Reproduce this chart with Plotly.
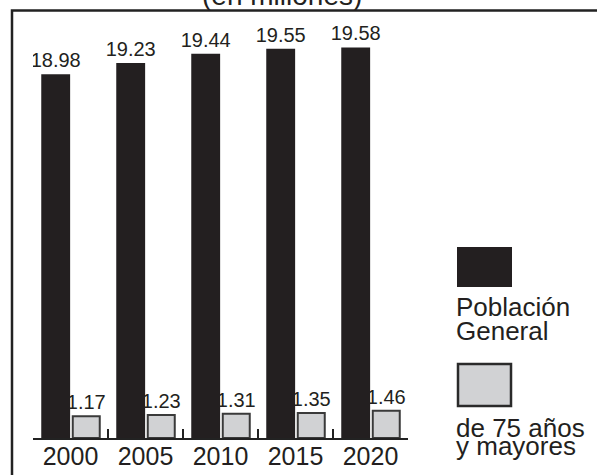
import plotly.graph_objects as go

years = ["2000", "2005", "2010", "2015", "2020"]
poblacion_general = [18.98, 19.23, 19.44, 19.55, 19.58]
mayores_75 = [1.17, 1.23, 1.31, 1.35, 1.46]
title_text = "(en millones)"
legend_general = ["Población", "General"]
legend_mayores = ["de 75 años", "y mayores"]

W, H = 597, 475
L, R, T, B = 33, 408, 12, 438
FONT = "Liberation Sans, Arial, Helvetica, sans-serif"
INK = "#231f20"
GRAY = "#d1d2d4"


def px(x):
    return (x - L) / (R - L)


def py(y):
    return (B - y) / (B - T)


def base_y(baseline, size):
    # bottom of annotation box for a wanted text baseline (pixels)
    return py(baseline + 0.21 * size + 1)


fig = go.Figure()
fig.add_trace(go.Bar(
    x=years, y=poblacion_general, yaxis="y",
    marker=dict(color=INK, line=dict(width=0)),
    width=0.385, offset=-0.39,
    text=[f"{v:.2f}" for v in poblacion_general],
    textposition="outside", constraintext="none",
    textfont=dict(family=FONT, size=20, color=INK),
    name="Población General", showlegend=False,
))
fig.add_trace(go.Bar(
    x=years, y=mayores_75, yaxis="y2",
    marker=dict(color=GRAY, line=dict(width=2, color="#3a3a3a")),
    width=0.36, offset=0.03,
    text=[f"{v:.2f}" for v in mayores_75],
    textposition="outside", constraintext="none",
    textfont=dict(family=FONT, size=20, color=INK),
    name="de 75 años y mayores", showlegend=False,
))

frame_path = "M {:.4f} {:.4f} L {:.4f} {:.4f} L {:.4f} {:.4f}".format(
    px(12), py(500), px(12), py(10.5), px(620), py(10.5))

shapes = [
    # frame (left and top)
    dict(type="path", xref="paper", yref="paper", path=frame_path,
         line=dict(color="#222", width=2.5)),
    # legend swatches
    dict(type="rect", xref="paper", yref="paper", x0=px(457), x1=px(512),
         y0=py(287), y1=py(247), fillcolor=INK, line=dict(width=0)),
    dict(type="rect", xref="paper", yref="paper", x0=px(458), x1=px(511),
         y0=py(406), y1=py(364), fillcolor=GRAY, line=dict(width=2.5, color="#2a2a2a")),
]

annotations = [
    dict(text=title_text, xref="paper", yref="paper", x=px(282), y=base_y(6, 28),
         xanchor="center", yanchor="bottom", showarrow=False,
         font=dict(family=FONT, size=28, color=INK)),
]
for txt, bl in zip(legend_general + legend_mayores, [318, 342, 439, 457]):
    annotations.append(dict(text=txt, xref="paper", yref="paper", x=px(454), y=base_y(bl, 26),
                            xanchor="left", yanchor="bottom", showarrow=False,
                            font=dict(family=FONT, size=26, color=INK)))

fig.update_layout(
    width=W, height=H,
    margin=dict(l=L, r=W - R, t=T, b=H - B, pad=0, autoexpand=False),
    paper_bgcolor="white", plot_bgcolor="white",
    barmode="overlay",
    xaxis=dict(type="category", showgrid=False, zeroline=False, automargin=False,
               showline=True, linewidth=2, linecolor="#222",
               ticks="inside", tickson="boundaries", ticklen=9, tickwidth=2, tickcolor="#222",
               ticklabelstandoff=-5,
               tickfont=dict(family=FONT, size=25, color=INK)),
    yaxis=dict(range=[10.86, 20.37], visible=False),
    yaxis2=dict(range=[0, 22.9], overlaying="y", visible=False),
    shapes=shapes,
    annotations=annotations,
)

fig.write_html("out.html", config={"displayModeBar": False},
               post_script="document.body.style.margin='0px';document.body.style.overflow='hidden';")
